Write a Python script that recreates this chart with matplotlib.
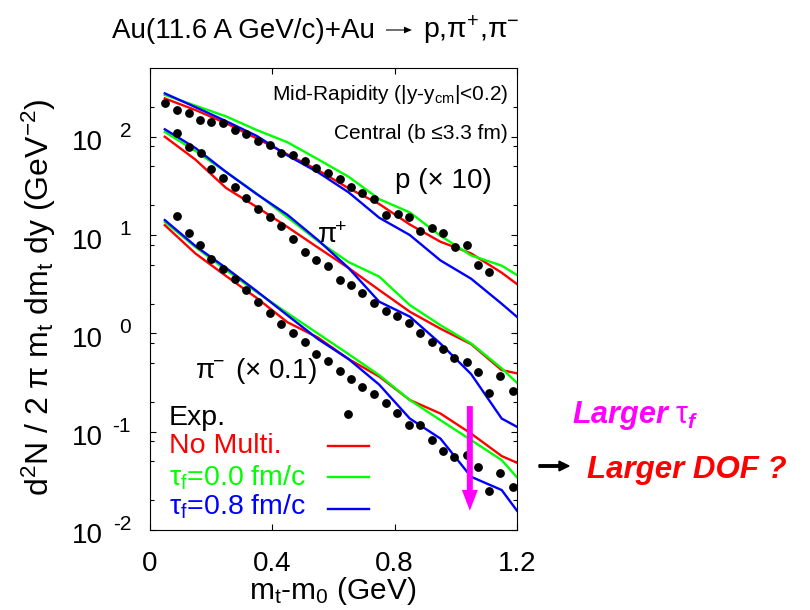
import matplotlib

matplotlib.use("Agg")
import matplotlib.pyplot as plt
from matplotlib import transforms
from matplotlib.patches import FancyArrow

plt.rcParams["font.family"] = ["Liberation Sans", "DejaVu Sans"]
plt.rcParams["mathtext.fontset"] = "custom"
plt.rcParams["mathtext.rm"] = "Liberation Sans"
plt.rcParams["mathtext.it"] = "Liberation Sans:italic"
plt.rcParams["mathtext.bf"] = "Liberation Sans:bold:italic"

RED, GREEN, BLUE, MAGENTA = "#ff0000", "#00ff00", "#0000ff", "#ff00ff"

# measured spectra (p scaled x10, pi- scaled x0.1)
MT_P = [0.052, 0.090, 0.129, 0.166, 0.202, 0.240, 0.278, 0.314, 0.354, 0.392,
        0.431, 0.469, 0.507, 0.545, 0.583, 0.621, 0.657, 0.695, 0.734, 0.772,
        0.810, 0.846, 0.883, 0.921, 0.959, 0.997, 1.036, 1.074, 1.110]
P_EXP = [219, 187, 175, 148, 140, 137, 117, 106, 91, 82,
         69, 65, 57, 47.7, 42.5, 36.9, 31, 26.9, 23.1, 16,
         16.4, 15.4, 11.1, 11.7, 10.5, 7.6, 7.9, 4.95, 4.24]

MT_PIP = [0.090, 0.129, 0.167, 0.202, 0.240, 0.278, 0.316, 0.354, 0.392, 0.431,
          0.469, 0.507, 0.545, 0.583, 0.621, 0.657, 0.695, 0.734, 0.772, 0.809,
          0.846, 0.883, 0.921, 0.959, 0.995, 1.036, 1.074, 1.110, 1.145, 1.186]
PIP_EXP = [110, 79, 68.7, 46.6, 38.3, 31, 23.6, 18.2, 15.3, 12.4,
           9.04, 6.76, 5.57, 4.84, 3.49, 3.10, 2.59, 2.02, 1.70, 1.50,
           1.26, 1.01, 0.82, 0.687, 0.557, 0.514, 0.401, 0.245, 0.368, 0.261]

MT_PIM = [0.090, 0.129, 0.166, 0.202, 0.240, 0.278, 0.316, 0.354, 0.392, 0.431,
          0.469, 0.507, 0.545, 0.583, 0.621, 0.648, 0.657, 0.695, 0.734, 0.772,
          0.809, 0.846, 0.883, 0.921, 0.959, 0.995, 1.036, 1.074, 1.110, 1.145, 1.186]
PIM_EXP = [15.6, 10.5, 7.9, 5.66, 4.48, 3.54, 2.75, 2.09, 1.62, 1.24,
           1.0, 0.822, 0.616, 0.522, 0.416, 0.150, 0.340, 0.286, 0.241, 0.194,
           0.156, 0.117, 0.117, 0.082, 0.063, 0.0556, 0.0578, 0.044, 0.0249, 0.0377, 0.0275]

# model curves, same m_t grid for every species
MT_CALC = [0.05, 0.15, 0.25, 0.35, 0.45, 0.55, 0.65, 0.75, 0.85, 0.95, 1.05, 1.15, 1.2]

P_NOMULTI = [245, 187, 137, 96.2, 66.2, 45.8, 29.9, 20.7, 12.8, 8.55, 6.51, 4.14, 3.17]
P_TAU00 = [266, 207, 161, 117, 88, 59, 39.2, 23.2, 17.0, 9.84, 6.21, 4.88, 3.92]
P_TAU08 = [276, 200, 144, 102, 64.6, 43.5, 27.2, 15.0, 10.0, 5.52, 3.60, 2.0, 1.47]

PIP_NOMULTI = [100, 58.5, 30.1, 19.3, 12.1, 7.46, 4.62, 2.76, 1.66, 1.116, 0.778, 0.423, 0.392]
PIP_TAU00 = [112, 71.6, 43.8, 26.4, 15.2, 8.69, 5.31, 3.78, 1.94, 1.21, 0.791, 0.441, 0.314]
PIP_TAU08 = [119, 76.8, 43.8, 26.1, 16.1, 8.9, 4.62, 2.10, 1.48, 0.787, 0.386, 0.136, 0.112]

PIM_NOMULTI = [12.6, 6.49, 3.83, 2.29, 1.30, 0.906, 0.548, 0.364, 0.210, 0.153, 0.0957, 0.0565, 0.0483]
PIM_TAU00 = [13.6, 7.55, 4.41, 2.63, 1.61, 0.995, 0.615, 0.376, 0.210, 0.131, 0.0822, 0.0514, 0.0343]
PIM_TAU08 = [14.2, 7.74, 4.62, 2.69, 1.53, 0.875, 0.548, 0.301, 0.136, 0.0851, 0.0348, 0.0255, 0.0157]

MODELS = [
    ("No Multi.", RED, (P_NOMULTI, PIP_NOMULTI, PIM_NOMULTI)),
    (r"$\mathrm{τ}_\mathrm{f}$=0.0 fm/c", GREEN, (P_TAU00, PIP_TAU00, PIM_TAU00)),
    (r"$\mathrm{τ}_\mathrm{f}$=0.8 fm/c", BLUE, (P_TAU08, PIP_TAU08, PIM_TAU08)),
]

# magenta arrow: start / end of the tau_f trend
ARROW_MT = 1.046
ARROW_Y = (0.182, 0.0157)

X_TICKS = [0, 0.4, 0.8, 1.2]
X_TICKLABELS = ["0", "0.4", "0.8", "1.2"]
Y_EXPONENTS = [-2, -1, 0, 1, 2]

fig = plt.figure(figsize=(8.1, 6.1), dpi=100)
ax = fig.add_axes([149.5 / 810, 80 / 610, 367.5 / 810, 462 / 610])
ax.set_yscale("log")
ax.set_xlim(0, 1.2)
ax.set_ylim(0.01, 500)

for label, color, series in MODELS:
    for vals in series:
        ax.plot(MT_CALC, vals, color=color, lw=1.7, solid_joinstyle="miter")

for mt, y in ((MT_P, P_EXP), (MT_PIP, PIP_EXP), (MT_PIM, PIM_EXP)):
    ax.plot(mt, y, "o", color="black", ms=5.3, zorder=5)

ax.annotate("", xy=(ARROW_MT, ARROW_Y[1]), xytext=(ARROW_MT, ARROW_Y[0]),
            arrowprops=dict(width=4.3, headwidth=11.5, headlength=15,
                            shrink=0, color=MAGENTA, lw=0), zorder=6)

# axes frame and ticks
for s in ax.spines.values():
    s.set_linewidth(0.8)
ax.set_xticks(X_TICKS)
ax.set_xticklabels(X_TICKLABELS, fontsize=20)
ax.set_yticks([10.0 ** e for e in Y_EXPONENTS])
ax.set_yticks([m * 10.0 ** e for e in Y_EXPONENTS[:-1] for m in (2, 5, 8)]
              + [200], minor=True)
ax.set_yticklabels([])
ax.yaxis.set_minor_formatter(plt.NullFormatter())
ax.tick_params(which="both", direction="in", top=True, right=True, width=0.8)
ax.tick_params(which="major", length=4.3)
ax.tick_params(which="minor", length=3)
ax.tick_params(axis="x", pad=15)

# "10" plus a raised exponent, gnuplot style
ytrans = transforms.blended_transform_factory(ax.transAxes, ax.transData)
base = transforms.offset_copy(ytrans, fig=fig, x=0, y=-9.7, units="points")
for e in Y_EXPONENTS:
    ax.text(-0.1265, 10.0 ** e, "10", transform=base, ha="right",
            va="baseline", fontsize=20, clip_on=False)
    ax.text(-0.0503, 10.0 ** e, "%d" % e, transform=ytrans,
            ha="right", va="baseline", fontsize=15, clip_on=False)

fig.text(332.7 / 810, 1 - 599 / 610, r"$\mathrm{m}_\mathrm{t}$-$\mathrm{m}_\mathrm{0}$ (GeV)",
         ha="center", va="baseline", fontsize=21.5)
fig.text(39 / 810, 1 - 297.5 / 610,
         r"$\mathrm{d}^\mathrm{2}$N / 2 π $\mathrm{m}_\mathrm{t}$ d$\mathrm{m}_\mathrm{t}$"
         r" dy (GeV$^\mathrm{-2}$)",
         rotation=90, ha="center", va="center", fontsize=23)

# title: two text pieces with a drawn reaction arrow between them
title_y = 1 - 38 / 610
fig.text(375 / 810, title_y, "Au(11.6 A GeV/c)+Au", ha="right", va="baseline", fontsize=20)
fig.text(423 / 810, title_y, r"p,$\mathrm{π}^{+}$,$\mathrm{π}^{-}$",
         ha="left", va="baseline", fontsize=20.5)
fig.patches.append(FancyArrow(
    386 / 810, 1 - 30 / 610, 18 / 810, 0, width=0.0018, head_width=0.011,
    head_length=8 / 810, length_includes_head=False, color="black", lw=0,
    transform=fig.transFigure, figure=fig))

# in-frame labels
ax.text(0.9755, 0.931, r"Mid-Rapidity (|y-y$_\mathrm{cm}$|<0.2)", transform=ax.transAxes,
        ha="right", va="baseline", fontsize=15)
ax.text(0.9755, 0.8457, "Central (b ≤3.3 fm)", transform=ax.transAxes,
        ha="right", va="baseline", fontsize=15)
ax.text(0.668, 0.740, "p (× 10)", transform=ax.transAxes, va="baseline", fontsize=20)
ax.text(0.455, 0.6205, r"$\mathrm{π}^{\!\!+}$", transform=ax.transAxes,
        va="baseline", fontsize=20)
ax.text(0.1238, 0.329, r"$\mathrm{π}^{\!\!-}$ (× 0.1)", transform=ax.transAxes,
        va="baseline", fontsize=20)

# legend drawn by hand
ax.text(0.053, 0.227, "Exp.", transform=ax.transAxes, va="baseline", fontsize=20.5)
for (label, color, _), ty, ly in zip(MODELS, (0.1667, 0.0974, 0.0325),
                                     (0.1825, 0.114, 0.0455)):
    ax.text(0.053, ty, label, transform=ax.transAxes, va="baseline",
            fontsize=20.5, color=color)
    ax.plot([0.486, 0.597], [ly, ly], transform=ax.transAxes, color=color, lw=1.7)

# right-hand notes
fig.text(572 / 810, 1 - 423 / 610, r"Larger $\mathrm{\tau}_\mathbf{f}$",
         color=MAGENTA, fontsize=22, fontweight="bold", style="italic", va="baseline")
fig.text(587 / 810, 1 - 478 / 610, "Larger DOF ?", color=RED, fontsize=22.5,
         fontweight="bold", style="italic", va="baseline")
fig.patches.append(FancyArrow(
    539 / 810, 1 - 466 / 610, 20 / 810, 0, width=0.004, head_width=0.016,
    head_length=10 / 810, length_includes_head=False, color="black",
    transform=fig.transFigure, figure=fig))

fig.savefig("out.png", dpi=100)
